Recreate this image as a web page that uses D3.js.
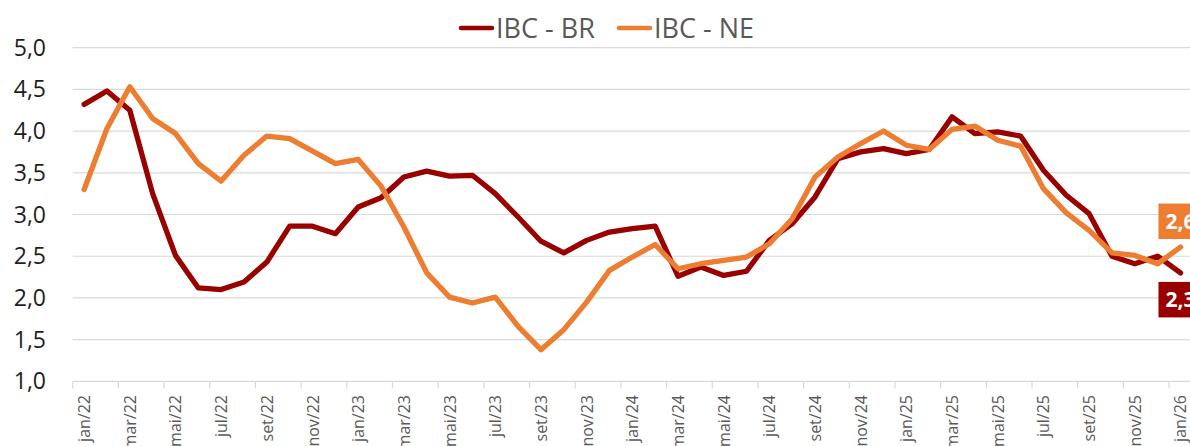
<!DOCTYPE html>
<html>
<head>
<meta charset="UTF-8">
<title>IBC - BR x IBC - NE</title>
<script src="https://d3js.org/d3.v7.min.js"></script>
<style>
  body { margin: 0; background: #fff; }
  svg { display: block; font-family: "Open Sans", sans-serif; }
</style>
</head>
<body>
<svg id="chart"></svg>
<script>
// month labels jan/22 .. jan/26
const monthNames = ["jan", "fev", "mar", "abr", "mai", "jun", "jul", "ago", "set", "out", "nov", "dez"];
const months = [];
for (let y = 22; y <= 26; y++) {
  for (let m = 0; m < 12; m++) {
    if (y == 26 && m > 0) break;
    months.push(monthNames[m] + "/" + y);
  }
}

// values
const ibcBR = [4.32, 4.48, 4.25, 3.25, 2.51, 2.12, 2.10, 2.19, 2.43, 2.86, 2.86, 2.77,
               3.09, 3.20, 3.45, 3.52, 3.46, 3.47, 3.25, 2.97, 2.68, 2.54, 2.69, 2.79,
               2.83, 2.86, 2.26, 2.37, 2.27, 2.32, 2.69, 2.89, 3.21, 3.67, 3.75, 3.79,
               3.73, 3.78, 4.17, 3.97, 3.99, 3.94, 3.53, 3.23, 3.01, 2.50, 2.41, 2.50,
               2.30];
const ibcNE = [3.30, 4.03, 4.53, 4.15, 3.97, 3.61, 3.40, 3.71, 3.94, 3.91, 3.76, 3.61,
               3.66, 3.34, 2.85, 2.30, 2.01, 1.94, 2.01, 1.66, 1.38, 1.62, 1.95, 2.33,
               2.49, 2.64, 2.35, 2.41, 2.45, 2.49, 2.65, 2.95, 3.45, 3.69, 3.85, 4.00,
               3.83, 3.78, 4.02, 4.06, 3.89, 3.82, 3.31, 3.02, 2.81, 2.54, 2.51, 2.41,
               2.61];
const yTicks = [1.0, 1.5, 2.0, 2.5, 3.0, 3.5, 4.0, 4.5, 5.0];

const series = [
  {name: "IBC - BR", values: ibcBR, color: "#990000", labelSide: "below"},
  {name: "IBC - NE", values: ibcNE, color: "#ED7D31", labelSide: "above"}
];

const WIDTH = 1190, HEIGHT = 446;
const svg = d3.select("#chart").attr("width", WIDTH).attr("height", HEIGHT)
  .style("overflow", "hidden");

const x = d3.scaleBand().domain(months).range([72.7, 1191.9]).padding(0);
const y = d3.scaleLinear().domain([1, 5]).range([381.4, 47.6]);
const fmt = d => d3.format(".1f")(d).replace(".", ",");

// gridlines
svg.append("g").selectAll("line").data(yTicks.slice(1)).join("line")
  .attr("x1", 72.7).attr("x2", WIDTH)
  .attr("y1", d => y(d)).attr("y2", d => y(d))
  .attr("stroke", "#d9d9d9").attr("stroke-width", 1.2);

// y labels
svg.append("g").selectAll("text").data(yTicks).join("text")
  .attr("x", 46).attr("y", d => y(d) + 8)
  .attr("text-anchor", "end")
  .attr("font-size", 23).attr("fill", "#1e1e1e")
  .text(fmt);

// x axis line + ticks between categories
svg.append("line")
  .attr("x1", 72.7).attr("x2", WIDTH)
  .attr("y1", y(1)).attr("y2", y(1))
  .attr("stroke", "#d9d9d9").attr("stroke-width", 1.2);

const every2 = months.filter((d, i) => i % 2 == 0);
svg.append("g").selectAll("line").data(every2).join("line")
  .attr("x1", d => x(d)).attr("x2", d => x(d))
  .attr("y1", y(1)).attr("y2", y(1) + 7)
  .attr("stroke", "#d9d9d9").attr("stroke-width", 1.2);

svg.append("g").selectAll("text").data(every2).join("text")
  .attr("transform", d => `translate(${x(d) + x.bandwidth() / 2 + 6},395) rotate(-90)`)
  .attr("text-anchor", "end")
  .attr("font-size", 16).attr("fill", "#595959")
  .text(d => d);

// lines
const line = d3.line()
  .x((d, i) => x(months[i]) + x.bandwidth() / 2)
  .y(d => y(d));

svg.append("g").selectAll("path").data(series).join("path")
  .attr("d", d => line(d.values))
  .attr("fill", "none")
  .attr("stroke", d => d.color)
  .attr("stroke-width", 5.3)
  .attr("stroke-linejoin", "round")
  .attr("stroke-linecap", "round");

// end data labels
series.forEach(s => {
  const last = s.values.length - 1;
  const px = x(months[last]) + x.bandwidth() / 2;
  const py = y(s.values[last]);
  const h = 35.5;
  const top = s.labelSide == "above" ? py - 8 - h : py + 9;
  const g = svg.append("g");
  const t = g.append("text")
    .attr("x", px).attr("y", top + h / 2 + 7.5)
    .attr("text-anchor", "middle")
    .attr("font-size", 21).attr("font-weight", "bold").attr("fill", "#fff")
    .text(fmt(s.values[last]));
  const w = t.node().getComputedTextLength() + 14;
  g.insert("rect", "text")
    .attr("x", px - w / 2).attr("y", top)
    .attr("width", w).attr("height", h)
    .attr("fill", s.color);
});

// legend
const legend = svg.append("g");
const legendPos = [459, 617];
series.forEach((s, i) => {
  legend.append("line")
    .attr("x1", legendPos[i] + 2).attr("x2", legendPos[i] + 33)
    .attr("y1", 28).attr("y2", 28)
    .attr("stroke", s.color).attr("stroke-width", 4.5)
    .attr("stroke-linecap", "round");
  legend.append("text")
    .attr("x", legendPos[i] + 37).attr("y", 37.5)
    .attr("font-size", 27).attr("fill", "#595959")
    .text(s.name);
});
</script>
</body>
</html>
